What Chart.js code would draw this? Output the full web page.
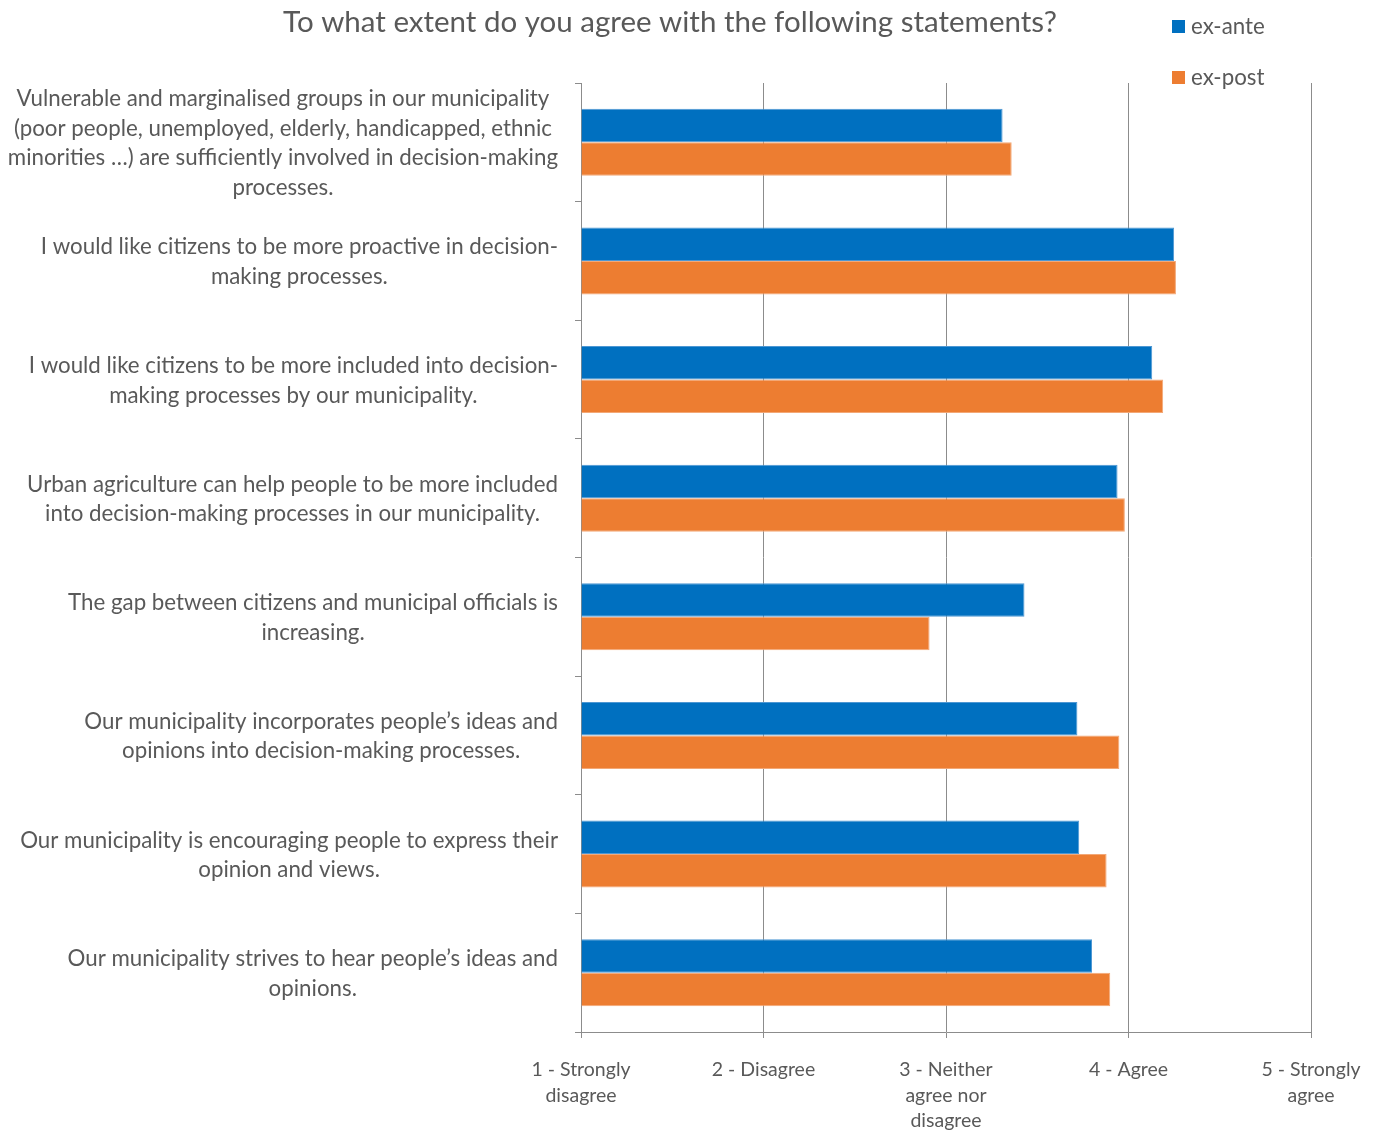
<!DOCTYPE html>
<html>
<head>
<meta charset="utf-8">
<script src="https://cdn.jsdelivr.net/npm/chart.js@4/dist/chart.umd.min.js"></script>
<style>
  html, body { margin: 0; padding: 0; background: #fff; }
  #wrap { width: 1378px; height: 1130px; }
</style>
</head>
<body>
<div id="wrap"><canvas id="chart"></canvas></div>
<script>
"use strict";

/* ===== DADOS ===== */
const categorias = [
    ["Vulnerable and marginalised groups in our municipality",
     "(poor people, unemployed, elderly, handicapped, ethnic",
     "minorities …) are sufficiently involved in decision-making",
     "processes."],
    ["I would like citizens to be more proactive in decision-",
     "making processes."],
    ["I would like citizens to be more included into decision-",
     "making processes by our municipality."],
    ["Urban agriculture can help people to be more included",
     "into decision-making processes in our municipality."],
    ["The gap between citizens and municipal officials is",
     "increasing."],
    ["Our municipality incorporates people’s ideas and",
     "opinions into decision-making processes."],
    ["Our municipality is encouraging people to express their",
     "opinion and views."],
    ["Our municipality strives to hear people’s ideas and",
     "opinions."]
];

const exAnte = [3.31, 4.25, 4.13, 3.94, 3.43, 3.72, 3.73, 3.80];
const exPost = [3.36, 4.26, 4.19, 3.98, 2.91, 3.95, 3.88, 3.90];

const escala = [
    ["1 - Strongly", "disagree"],
    ["2 - Disagree"],
    ["3 - Neither", "agree nor", "disagree"],
    ["4 - Agree"],
    ["5 - Strongly", "agree"]
];

const titulo = "To what extent do you agree with the following statements?";

/* ===== ESTILO ===== */
const FONTE = "Lato, 'Open Sans', sans-serif";
const TEXTO = "#595959";
const GRADE = "#8c8c8c";
const AZUL = "#0070C0";
const LARANJA = "#ED7D31";

// rótulos das categorias: linhas centradas, bloco alinhado à direita
const rotulosY = {
    id: "rotulosY",
    afterDraw(chart) {
        const { ctx, scales: { y } } = chart;
        const alturaLinha = 29.5;
        const borda = 558;
        ctx.save();
        ctx.font = "22.3px " + FONTE;
        ctx.fillStyle = TEXTO;
        ctx.textAlign = "center";
        ctx.textBaseline = "middle";
        categorias.forEach((linhas, i) => {
            const cy = y.getPixelForValue(i) + 1;
            const largura = Math.max(...linhas.map(l => ctx.measureText(l).width));
            const cx = borda - largura / 2;
            const topo = cy - (linhas.length - 1) * alturaLinha / 2;
            linhas.forEach((l, j) => ctx.fillText(l, cx, topo + j * alturaLinha));
        });
        ctx.restore();
    }
};

// título e legenda no topo
const cabecalho = {
    id: "cabecalho",
    afterDraw(chart) {
        const ctx = chart.ctx;
        ctx.save();
        ctx.fillStyle = TEXTO;
        ctx.textBaseline = "middle";
        ctx.textAlign = "center";
        ctx.font = "29.5px " + FONTE;
        ctx.fillText(titulo, 670, 22);

        ctx.textAlign = "left";
        ctx.font = "22.3px " + FONTE;
        chart.data.datasets.forEach((ds, i) => {
            const yy = 27 + i * 51;
            ctx.fillStyle = ds.backgroundColor;
            ctx.fillRect(1172, yy - 7, 13, 13);
            ctx.fillStyle = TEXTO;
            ctx.fillText(ds.label, 1191, yy);
        });
        ctx.restore();
    }
};

new Chart(document.getElementById("chart"), {
    type: "bar",
    data: {
        labels: categorias,
        datasets: [
            { label: "ex-ante", data: exAnte, backgroundColor: AZUL,
              borderColor: "#4d97d3", borderWidth: 1, borderSkipped: "left" },
            { label: "ex-post", data: exPost, backgroundColor: LARANJA,
              borderColor: "#f3a877", borderWidth: 1, borderSkipped: "left" }
        ]
    },
    options: {
        indexAxis: "y",
        responsive: true,
        maintainAspectRatio: false,
        animation: false,
        layout: { padding: { left: 0, right: 67, top: 83, bottom: 0 } },
        datasets: { bar: { barPercentage: 1, categoryPercentage: 0.565, base: 1 } },
        plugins: {
            legend: { display: false },
            title: { display: false },
            tooltip: { enabled: false }
        },
        scales: {
            x: {
                min: 1,
                max: 5,
                ticks: {
                    stepSize: 1,
                    color: TEXTO,
                    padding: 19,
                    maxRotation: 0,
                    font: { family: FONTE, size: 19.5, lineHeight: 1.31 },
                    callback: v => escala[v - 1]
                },
                grid: { color: GRADE, lineWidth: 1, tickLength: 6 },
                border: { color: GRADE },
                afterFit(s) { s.height = 98; s.paddingLeft = 0; s.paddingRight = 0; }
            },
            y: {
                offset: true,
                ticks: { display: false },
                grid: { drawOnChartArea: false, color: GRADE, tickLength: 6, offset: true },
                border: { color: GRADE },
                afterFit(s) { s.width = 581; }
            }
        }
    },
    plugins: [rotulosY, cabecalho]
});
</script>
</body>
</html>
